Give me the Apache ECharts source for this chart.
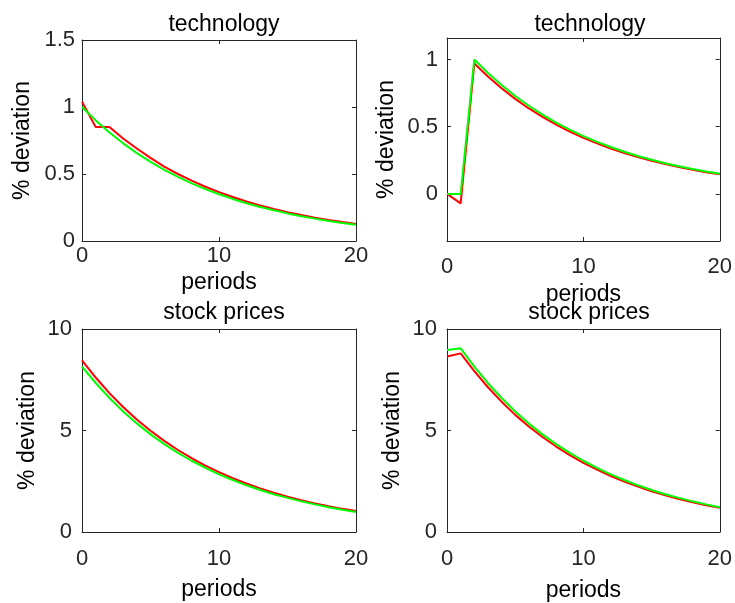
<!DOCTYPE html>
<html>
<head>
<meta charset="utf-8">
<script src="https://cdn.jsdelivr.net/npm/echarts@6/dist/echarts.min.js"></script>
<style>html,body{margin:0;padding:0;background:#fff}#c{width:735px;height:603px}</style>
</head>
<body>
<div id="c"></div>
<script>
var periods = [0,1,2,3,4,5,6,7,8,9,10,11,12,13,14,15,16,17,18,19,20];
var titles = ["technology","technology","stock prices","stock prices"];
var xTicks = [0,10,20];
var yTicksTR = [0,0.5,1];

var techGreenL = [1.0,0.9,0.81,0.729,0.656,0.590,0.531,0.478,0.430,0.387,0.349,0.314,0.282,0.254,0.229,0.206,0.185,0.167,0.150,0.135,0.122];
var techRedL   = [1.04,0.85,0.85,0.765,0.69,0.62,0.555,0.50,0.45,0.405,0.365,0.328,0.295,0.266,0.239,0.215,0.194,0.174,0.157,0.141,0.127];
var techGreenR = [0,0,1.0,0.9,0.81,0.729,0.656,0.590,0.531,0.478,0.430,0.387,0.349,0.314,0.282,0.254,0.229,0.206,0.185,0.167,0.150];
var techRedR   = [0,-0.07,0.97,0.873,0.786,0.707,0.636,0.573,0.515,0.464,0.417,0.376,0.338,0.304,0.274,0.246,0.222,0.200,0.180,0.162,0.146];
var stockGreenL = [8.15,7.34,6.60,5.94,5.35,4.81,4.33,3.90,3.51,3.16,2.84,2.56,2.30,2.07,1.86,1.68,1.51,1.36,1.22,1.10,0.99];
var stockRedL   = [8.45,7.61,6.84,6.16,5.54,4.99,4.49,4.04,3.64,3.27,2.95,2.65,2.39,2.15,1.93,1.74,1.57,1.41,1.27,1.14,1.03];
var stockGreenR = [8.97,9.05,8.15,7.33,6.60,5.94,5.34,4.81,4.33,3.90,3.51,3.16,2.84,2.56,2.30,2.07,1.86,1.68,1.51,1.36,1.22];
var stockRedR   = [8.65,8.8,7.92,7.13,6.42,5.77,5.20,4.68,4.21,3.79,3.41,3.07,2.76,2.49,2.24,2.01,1.81,1.63,1.47,1.32,1.19];

var panels = [
  {grid:{left:82,top:40,width:274,height:201}, ymin:0, ymax:1.5, yint:0.5, green:techGreenL, red:techRedL, xLabMargin:4, xNameGap:30, yNameGap:48, yLabMargin:7, titleTop:8, titleX:219},
  {grid:{left:447,top:38,width:275,height:203}, ymin:-0.35, ymax:1.16, custom:yTicksTR, green:techGreenR, red:techRedR, xLabMargin:15, xNameGap:42, yNameGap:49, yLabMargin:9, titleTop:8, titleX:585},
  {grid:{left:82,top:329,width:274,height:203}, ymin:0, ymax:10, yint:5, green:stockGreenL, red:stockRedL, xLabMargin:16, xNameGap:46, yNameGap:43, yLabMargin:10, titleTop:296, titleX:219},
  {grid:{left:447,top:329,width:275,height:203}, ymin:0, ymax:10, yint:5, green:stockGreenR, red:stockRedR, xLabMargin:16, xNameGap:47, yNameGap:43, yLabMargin:10, titleTop:296, titleX:584}
];

var FONT = "'Liberation Sans', Arial, sans-serif";
var axisCol = '#262626';
var grids=[], xAxes=[], yAxes=[], series=[], titleArr=[];

function pair(a){ return periods.map(function(p,i){ return [p, a[i]]; }); }

panels.forEach(function(p, i){
  grids.push(Object.assign({show:true, borderColor:axisCol, borderWidth:0, backgroundColor:'#fff'}, p.grid));
  titleArr.push({text:titles[i], left:p.titleX, top:p.titleTop, textAlign:'center',
    textStyle:{fontFamily:FONT, fontSize:23, fontWeight:'normal', color:'#000'}});
  var xBase = {type:'value', gridIndex:i, min:0, max:20, interval:10, splitLine:{show:false},
    axisLine:{show:true, onZero:false, lineStyle:{color:axisCol, width:1}},
    axisTick:{show:true, inside:true, length:4, lineStyle:{color:axisCol}}};
  xAxes.push(Object.assign({}, xBase, {position:'bottom', name:'periods', nameLocation:'middle', nameGap:p.xNameGap,
    nameTextStyle:{fontFamily:FONT, fontSize:23, color:'#000'},
    axisLabel:{show:true, margin:p.xLabMargin, fontFamily:FONT, fontSize:22, color:axisCol}}));
  xAxes.push(Object.assign({}, xBase, {position:'top', axisLabel:{show:false}}));
  var yBase = {type:'value', gridIndex:i, min:p.ymin, max:p.ymax, splitLine:{show:false},
    axisLine:{show:true, onZero:false, lineStyle:{color:axisCol, width:1}},
    axisTick:{show:true, inside:true, length:4, lineStyle:{color:axisCol}}};
  if (p.custom) {
    yBase.axisTick.customValues = p.custom;
  } else {
    yBase.interval = p.yint;
  }
  var lab = {show:true, margin:p.yLabMargin, fontFamily:FONT, fontSize:22, color:axisCol};
  if (p.custom) lab.customValues = p.custom;
  yAxes.push(Object.assign({}, yBase, {position:'left', name:'% deviation', nameLocation:'middle', nameRotate:90, nameGap:p.yNameGap,
    nameTextStyle:{fontFamily:FONT, fontSize:23, color:'#000'}, axisLabel:lab}));
  var yR = Object.assign({}, yBase, {position:'right', axisLabel:{show:false}});
  yR.axisTick = Object.assign({}, yBase.axisTick);
  yAxes.push(yR);
  series.push({type:'line', xAxisIndex:2*i, yAxisIndex:2*i, data:pair(p.red), showSymbol:false, symbol:'none',
    lineStyle:{color:'#ff0000', width:2}, z:2, animation:false});
  series.push({type:'line', xAxisIndex:2*i, yAxisIndex:2*i, data:pair(p.green), showSymbol:false, symbol:'none',
    lineStyle:{color:'#00ff00', width:2}, z:3, animation:false});
});

var chart = echarts.init(document.getElementById('c'), null, {renderer:'canvas'});
chart.setOption({animation:false, backgroundColor:'#fff', title:titleArr, grid:grids, xAxis:xAxes, yAxis:yAxes, series:series});
</script>
</body>
</html>
